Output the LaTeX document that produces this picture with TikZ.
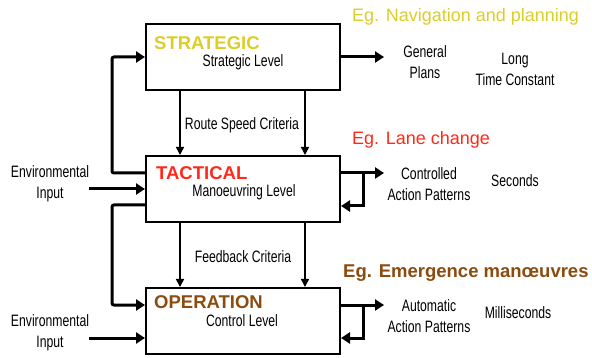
\documentclass[tikz,border=0pt]{standalone}
\usepackage{fontspec}
\setmainfont{Liberation Sans}
\newfontfamily\narrowfont[FakeStretch=0.74]{Liberation Sans}
\usepackage{xcolor}
\usetikzlibrary{shapes,arrows.meta,positioning}

\definecolor{stratyellow}{RGB}{220,205,40}
\definecolor{tactred}{RGB}{255,40,25}
\definecolor{opbrown}{RGB}{140,75,15}

\begin{document}
\begin{tikzpicture}[
    x=1pt, y=-1pt,
    level/.style={rectangle, draw, line width=2pt, minimum width=194pt, minimum height=66pt, inner sep=0pt},
    heading/.style={anchor=west, inner sep=0pt, font=\fontsize{18.5}{18}\selectfont\bfseries},
    label/.style={inner sep=0pt, align=center, font=\narrowfont\fontsize{16.5}{21}\selectfont},
    egtext/.style={anchor=west, inner sep=0pt, font=\fontsize{18}{18}\selectfont},
    fat/.style={-{Triangle[length=9pt,width=11pt]}, line width=3pt},
    thin/.style={-{Triangle[length=8pt,width=8pt]}, line width=1.5pt}
]
\useasboundingbox (0,0) rectangle (592,358);

% the three levels
\node[level] (strat) at (243,57) {};
\node[level] (tact) at (243,189) {};
\node[level] (oper) at (243,321) {};

\node[heading, text=stratyellow] (strathead) at (154,43) {STRATEGIC};
\node[heading, text=tactred] (tacthead) at (156,173) {TACTICAL};
\node[heading, text=opbrown] (operhead) at (154,302) {OPERATION};

\node[label] (stratlvl) at (243,62) {Strategic Level};
\node[label] (tactlvl) at (244,192) {Manoeuvring Level};
\node[label] (operlvl) at (242,321) {Control Level};

% examples
\node[egtext, text=stratyellow] (egnav) at (352,17) {Eg. Navigation and planning};
\node[egtext, text=tactred] (eglane) at (352,140) {Eg. Lane change};
\node[egtext, text=opbrown, font=\fontsize{18.5}{18}\selectfont\bfseries] (egemerg) at (343,273) {Eg. Emergence manœuvres};

% criteria between levels
\node[label] (route) at (242,125) {Route Speed Criteria};
\node[label] (feedback) at (243,257) {Feedback Criteria};

\draw[thin] ([xshift=-63pt]strat.south) -- ([xshift=-63pt]tact.north);
\draw[thin] ([xshift=62pt]strat.south) -- ([xshift=62pt]tact.north);
\draw[thin] ([xshift=-63pt]tact.south) -- ([xshift=-63pt]oper.north);
\draw[thin] ([xshift=62pt]tact.south) -- ([xshift=62pt]oper.north);

% environmental inputs
\node[label] (env1) at (50,184) {Environmental\\Input};
\node[label] (env2) at (50,333) {Environmental\\Input};

\draw[fat] ([xshift=-56pt]tact.west) -- (tact.west);
\draw[fat] ([xshift=-56pt,yshift=-17pt]oper.west) -- ([yshift=-17pt]oper.west);

% feedback on the left
\draw[fat, rounded corners=2pt] ([yshift=16pt]tact.west) -- ++(-33,0) |- (strat.west);
\draw[fat, rounded corners=2pt] ([yshift=-16pt]tact.west) -- ++(-33,0) |- ([yshift=16pt]oper.west);

% outputs
\node[label] (plans) at (425,62) {General\\Plans};
\node[label] (longtc) at (515,69) {Long\\Time Constant};
\node[label] (ctrlpat) at (429,184) {Controlled\\Action Patterns};
\node[label] (secs) at (515,181) {Seconds};
\node[label] (autopat) at (429,316) {Automatic\\Action Patterns};
\node[label] (msecs) at (518,313) {Milliseconds};

\draw[fat] (strat.east) -- ++(43,0);
\draw[fat] ([yshift=16pt]tact.east) -- ++(43,0);
\draw[fat] ([yshift=16pt]oper.east) -- ++(43,0);
\draw[fat] ([xshift=22pt,yshift=17.5pt]tact.east) |- ([yshift=-17pt]tact.east);
\draw[fat] ([xshift=22pt,yshift=17.5pt]oper.east) |- ([yshift=-17pt]oper.east);

\end{tikzpicture}
\end{document}
